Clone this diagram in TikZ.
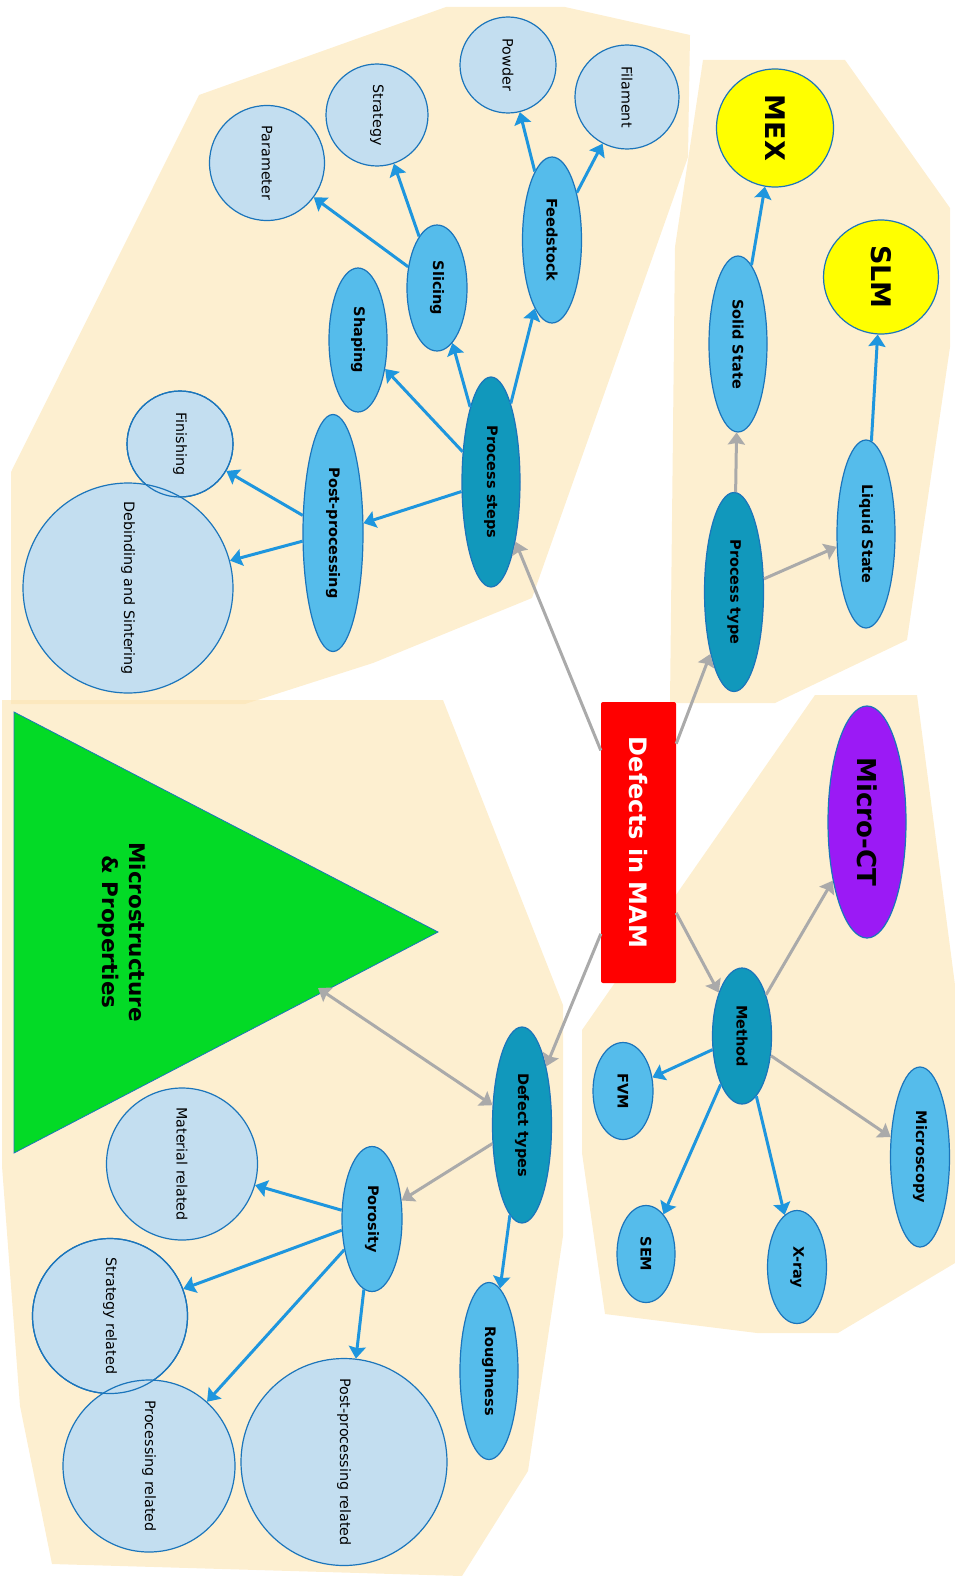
\documentclass[tikz,border=0pt]{standalone}
\usepackage{fontspec}
\setmainfont{DejaVu Sans}
\usetikzlibrary{shapes.geometric,arrows.meta}
\definecolor{creamc}{RGB}{252,228,177}
\definecolor{lightb}{RGB}{195,222,240}
\definecolor{midb}{RGB}{85,188,235}
\definecolor{darkb}{RGB}{17,152,188}
\definecolor{bordc}{RGB}{27,117,187}
\definecolor{arrowb}{RGB}{30,150,222}
\definecolor{arrowg}{RGB}{170,170,170}
\definecolor{purplec}{RGB}{155,26,245}
\definecolor{greenc}{RGB}{3,218,38}
\definecolor{yellowc}{RGB}{255,255,0}
\definecolor{redc}{RGB}{255,0,0}
\newcommand{\zt}[1]{\makebox[0pt]{#1}}
\begin{document}
\begin{tikzpicture}[x=1pt,y=-1pt,
  region/.style={fill=creamc, fill opacity=0.6, draw=none},
  basenode/.style={ellipse, draw=bordc, line width=1.2pt, inner sep=0pt, rotate=-90},
  lightnode/.style={basenode, fill=lightb, font=\fontsize{14.3}{16}\selectfont},
  midnode/.style={basenode, fill=midb, font=\bfseries\fontsize{14.5}{17}\selectfont},
  darknode/.style={basenode, fill=darkb, font=\bfseries\fontsize{14.5}{17}\selectfont},
  yellownode/.style={basenode, fill=yellowc, font=\bfseries\fontsize{27}{30}\selectfont},
  garrow/.style={draw=arrowg, line width=3pt, -{Stealth[length=12pt,width=17pt,inset=1.5pt]}},
  barrow/.style={draw=arrowb, line width=3pt, -{Stealth[length=12pt,width=17pt,inset=1.5pt]}},
  sz/.style 2 args={minimum width=#1pt, minimum height=#2pt}
]
\useasboundingbox (0,0) rectangle (955,1576);

% background regions
\fill[region] (446,7) -- (565,7) -- (690,35) -- (688,157) -- (532,598) -- (373,663) -- (245,704) -- (11,704) -- (11,472) -- (199,95) -- cycle;
\fill[region] (703,60) -- (845,60) -- (950,208) -- (950,347) -- (907,640) -- (775,703) -- (670,703) -- (675,247) -- cycle;
\fill[region] (815,695) -- (917,695) -- (955,985) -- (955,1263) -- (838,1333) -- (757,1333) -- (605,1314) -- (582,1153) -- (582,1030) -- cycle;
\fill[region] (2,700) -- (443,700) -- (563,1005) -- (563,1236) -- (528,1471) -- (462,1576) -- (52,1564) -- (20,1406) -- (2,1166) -- cycle;

% triangle
\fill[greenc] (14,712) -- (438,932) -- (14,1153) -- cycle;
\draw[bordc, line width=0.8pt] (14,712) -- (438,932) -- (14,1153) -- cycle;
\node[rotate=-90, align=center, font=\bfseries\fontsize{21.5}{27}\selectfont] (mstext) at (122,932) {Microstructure\\\& Properties};
\coordinate (triedge) at (318,988);

% central node
\node[rectangle, rounded corners=2pt, fill=redc, text=white, rotate=-90, inner sep=0pt, sz={281}{75}, font=\bfseries\fontsize{24}{28}\selectfont] (defects) at (638.5,842.5) {Defects in MAM};

% process steps region
\node[darknode, sz={210}{58}] (psteps) at (491,482) {\zt{Process steps}};
\node[midnode, sz={166}{59}] (feed) at (552,240) {\zt{Feedstock}};
\node[midnode, sz={126}{60}] (slicing) at (437,288) {\zt{Slicing}};
\node[midnode, sz={144}{58}] (shaping) at (358,340) {\zt{Shaping}};
\node[midnode, sz={237}{60}] (postp) at (333,533) {\zt{Post-processing}};
\node[lightnode, sz={96}{96}] (powder) at (508,65) {\zt{Powder}};
\node[lightnode, sz={104}{104}] (filament) at (627,97) {\zt{Filament}};
\node[lightnode, sz={102}{102}] (strategy) at (377,115) {\zt{Strategy}};
\node[lightnode, sz={115}{115}] (param) at (267,163) {\zt{Parameter}};
\node[lightnode, sz={106}{106}] (finishing) at (180,444) {\zt{Finishing}};
\node[lightnode, sz={210}{210}] (debind) at (128,588) {\zt{Debinding and Sintering}};
\draw[bordc, line width=1.2pt] (finishing.center) circle [radius=53];

% process type region
\node[darknode, sz={199}{59}] (ptype) at (734,592) {\zt{Process type}};
\node[midnode, sz={176}{58}] (solid) at (738,344) {\zt{Solid State}};
\node[midnode, sz={188}{58}] (liquid) at (866,534) {\zt{Liquid State}};
\node[yellownode, sz={118}{117}] (mex) at (775,128) {\zt{MEX}};
\node[yellownode, sz={114}{115}] (slm) at (881,277) {\zt{SLM}};

% method region
\node[darknode, sz={136}{59}] (method) at (742,1036) {\zt{Method}};
\node[basenode, fill=purplec, sz={232}{78}, font=\bfseries\fontsize{26}{30}\selectfont] (microct) at (867,822) {\zt{Micro-CT}};
\node[midnode, sz={97}{60}] (fvm) at (623,1091) {\zt{FVM}};
\node[midnode, sz={97}{58}] (sem) at (646,1254) {\zt{SEM}};
\node[midnode, sz={113}{59}] (xray) at (797,1267) {\zt{X-ray}};
\node[midnode, sz={180}{59}] (microscopy) at (920,1157) {\zt{Microscopy}};

% defect types region
\node[darknode, sz={196}{59}] (dtypes) at (522,1125) {\zt{Defect types}};
\node[midnode, sz={145}{60}] (porosity) at (372,1219) {\zt{Porosity}};
\node[midnode, sz={177}{58}] (rough) at (489,1371) {\zt{Roughness}};
\node[lightnode, sz={152}{151}] (matrel) at (182,1164) {\zt{Material related}};
\node[lightnode, sz={155}{155}] (stratrel) at (110,1316) {\zt{Strategy related}};
\node[lightnode, sz={172}{172}] (procrel) at (149,1466) {\zt{Processing related}};
\node[lightnode, sz={207}{206}] (postrel) at (344,1462) {\zt{Post-processing related}};
\draw[bordc, line width=1.2pt] (stratrel.center) circle [radius=77.5];

% gray connectors
\draw[garrow] (defects) -- (psteps);
\draw[garrow] (defects) -- (ptype);
\draw[garrow] (defects) -- (method);
\draw[garrow] (defects) -- (dtypes);
\draw[garrow] (ptype) -- (solid);
\draw[garrow] (ptype) -- (liquid);
\draw[garrow] (method) -- (microct);
\draw[garrow] (method) -- (microscopy);
\draw[garrow] (dtypes) -- (porosity);
\draw[garrow, {Stealth[length=12pt,width=17pt,inset=1.5pt]}-{Stealth[length=12pt,width=17pt,inset=1.5pt]}] (dtypes) -- (triedge);

% blue connectors
\draw[barrow] (psteps) -- (feed);
\draw[barrow] (psteps) -- (slicing);
\draw[barrow] (psteps) -- (shaping);
\draw[barrow] (psteps) -- (postp);
\draw[barrow] (feed) -- (powder);
\draw[barrow] (feed) -- (filament);
\draw[barrow] (slicing) -- (strategy);
\draw[barrow] (slicing) -- (param);
\draw[barrow] (postp) -- (finishing);
\draw[barrow] (postp) -- (debind);
\draw[barrow] (solid) -- (mex);
\draw[barrow] (liquid) -- (slm);
\draw[barrow] (method) -- (fvm);
\draw[barrow] (method) -- (sem);
\draw[barrow] (method) -- (xray);
\draw[barrow] (dtypes) -- (rough);
\draw[barrow] (porosity) -- (matrel);
\draw[barrow] (porosity) -- (stratrel);
\draw[barrow] (porosity) -- (procrel);
\draw[barrow] (porosity) -- (postrel);
\end{tikzpicture}
\end{document}
